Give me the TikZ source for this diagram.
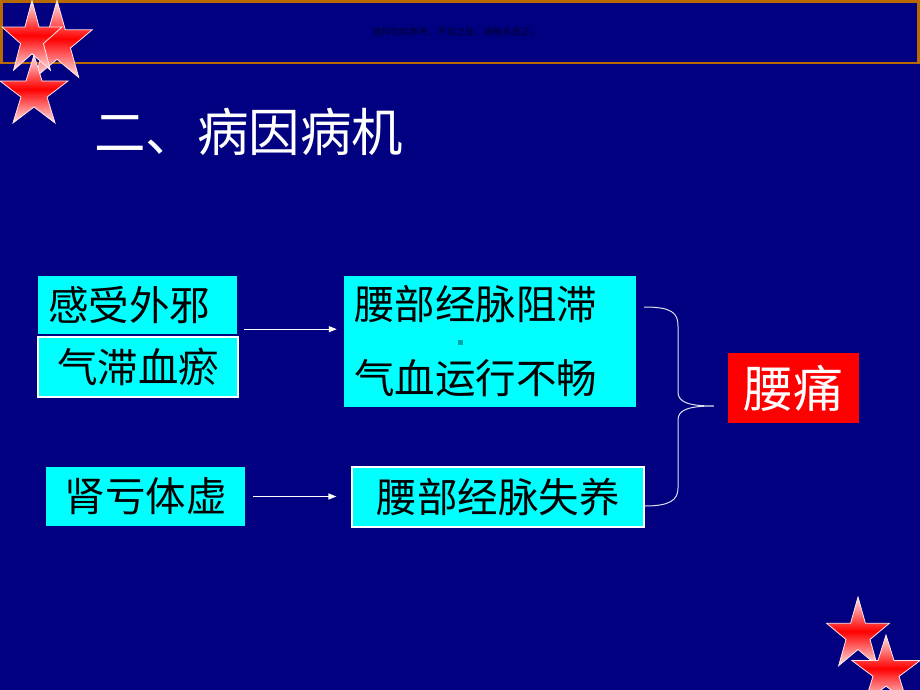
\documentclass[tikz,border=0pt]{standalone}
\usepackage{fontspec}
\usepackage{tikz}
\usetikzlibrary{arrows.meta, positioning, calc}
\newfontfamily\cjk{Noto Sans CJK SC}
\definecolor{SlideNavy}{HTML}{000080}
\definecolor{SlideCyan}{HTML}{00FFFF}
\definecolor{FrameOrange}{HTML}{B86A00}
\definecolor{NoteInk}{HTML}{00002E}
\definecolor{StarRed}{HTML}{FF0000}
\definecolor{StarPale}{HTML}{FFE6EA}
\definecolor{BraceGray}{HTML}{E0E0EE}

% five-point star: centre x, centre y, x radius, y radius
\newcommand{\slidestar}[4]{%
  \begin{scope}[shift={(#1,#2)}, xscale=#3, yscale=-#4]
    \shadedraw[starshade] (90:1) \foreach \i [evaluate=\i as \r using {1-0.618*mod(\i,2)}] in {1,...,9} { -- ({90+36*\i}:\r) } -- cycle;
  \end{scope}}

\begin{document}
\begin{tikzpicture}[x=1pt, y=-1pt,
    starshade/.style={top color=StarPale, bottom color=StarPale, middle color=StarRed, draw=StarPale, line width=0.8pt},
    cyanbox/.style={fill=SlideCyan, inner sep=0pt, font=\cjk\fontsize{40.5}{74}\selectfont, text=black},
    edgebox/.style={draw=white, line width=1.2pt},
    redbox/.style={fill=StarRed, inner sep=0pt, font=\cjk\fontsize{50}{60}\selectfont, text=white},
    flowarrow/.style={draw=white, line width=1.2pt, -{Triangle[length=8pt, width=6pt]}},
    braceline/.style={draw=BraceGray, line width=1pt}]
    \useasboundingbox (0,0) rectangle (920,690);
    \fill[SlideNavy] (0,0) rectangle (920,690);

    % Header band
    \draw[FrameOrange, line width=2.5pt] (1.5,1.5) rectangle (918.5,63);
    \node[font=\cjk\fontsize{9.3}{11}\selectfont, NoteInk] (note) at (456,32) {资料仅供参考，不当之处，请联系改正。};

    % Stars, top left
    \slidestar{57}{43}{37}{42.6}
    \slidestar{32}{39}{31.5}{38.7}
    \slidestar{34}{92.6}{35.8}{37.6}

    % Title
    \node[anchor=west, font=\cjk\fontsize{51.5}{60}\selectfont, text=white, inner sep=0pt] (title) at (94,132) {二、病因病机};

    % Causes
    \node[cyanbox, text width=179pt, inner xsep=10pt, minimum height=58pt, align=left] (waixie) at (137.5,305) {感受外邪};
    \node[cyanbox, edgebox, minimum width=200pt, minimum height=60pt] (yuxue) at (138,367) {气滞血瘀};
    \node[cyanbox, minimum width=199pt, minimum height=59pt] (shenkui) at (145.5,496.5) {肾亏体虚};

    % Mechanisms
    \node[cyanbox, text width=272pt, inner xsep=10pt, minimum height=131pt, align=left] (zuzhi) at (490,341.5) {腰部经脉阻滞\\气血运行不畅};
    \fill[teal!70!SlideCyan] (457.5,339.5) rectangle ++(5,5);
    \node[cyanbox, edgebox, minimum width=292pt, minimum height=60pt] (shiyang) at (498,497) {腰部经脉失养};

    % Result
    \node[redbox, minimum width=131pt, minimum height=70pt] (yaotong) at (793.5,388) {腰痛};

    % Arrows
    \coordinate (a1) at ([yshift=5pt]waixie.south east);
    \draw[flowarrow, shorten <=7pt, shorten >=7pt] (a1) -- (a1 -| zuzhi.west);
    \draw[flowarrow, shorten <=8pt, shorten >=15pt] (shenkui.east) -- (shenkui.east -| shiyang.west);

    % Brace
    \coordinate (b1) at ([xshift=8pt]zuzhi.east |- 0,307);
    \coordinate (b2) at ([xshift=-14pt]yaotong.west |- 0,406);
    \coordinate (b3) at ([xshift=0pt]shiyang.east |- 0,506);
    \draw[braceline] (b1) .. controls (672,307) and (678,313) .. (678,326) -- (678,392)
        .. controls (678,402) and (688,406) .. (b2)
        .. controls (688,406) and (678,410) .. (678,420) -- (678,488)
        .. controls (678,500) and (670,506) .. (b3);

    % Stars, bottom right
    \slidestar{858}{635}{33}{38}
    \slidestar{886}{672}{35.8}{37}
\end{tikzpicture}
\end{document}
